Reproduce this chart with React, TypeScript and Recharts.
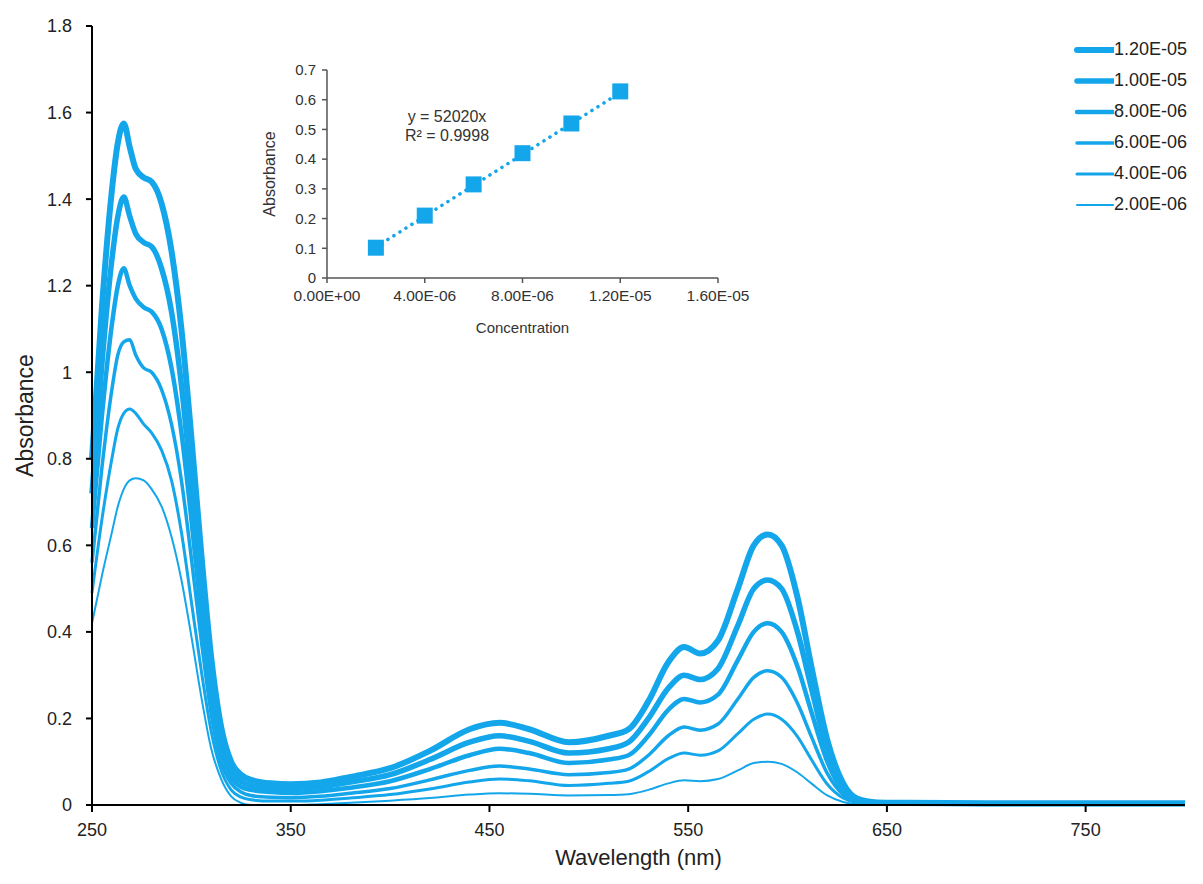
import { LineChart, Line, XAxis, YAxis, Legend, ComposedChart, Scatter } from "recharts"

const FONT = "'Liberation Sans', Arial, sans-serif"
const BLUE = "#14a6ea"

const wavelengths = [250, 255, 260, 263, 266, 269, 272, 276, 280, 285, 290, 295, 300, 305, 310, 315, 320, 325, 330, 340, 350, 365, 380, 400, 420, 440, 455, 470, 490, 510, 520, 530, 540, 548, 556, 565, 575, 583, 590, 597, 605, 612, 620, 628, 635, 645, 660, 700, 750, 800]

const s12 = [0.8, 1.15, 1.42, 1.53, 1.575, 1.52, 1.47, 1.45, 1.44, 1.39, 1.28, 1.1, 0.85, 0.58, 0.34, 0.18, 0.1, 0.07, 0.058, 0.05, 0.048, 0.052, 0.065, 0.085, 0.125, 0.175, 0.19, 0.175, 0.145, 0.16, 0.175, 0.24, 0.33, 0.365, 0.35, 0.38, 0.5, 0.6, 0.625, 0.6, 0.48, 0.32, 0.15, 0.05, 0.015, 0.006, 0.005, 0.004, 0.004, 0.004]
const s10 = [0.72, 1.02, 1.26, 1.36, 1.405, 1.36, 1.32, 1.3, 1.29, 1.24, 1.14, 0.97, 0.74, 0.5, 0.29, 0.15, 0.08, 0.055, 0.045, 0.04, 0.038, 0.042, 0.053, 0.07, 0.105, 0.145, 0.16, 0.147, 0.12, 0.13, 0.145, 0.2, 0.27, 0.3, 0.29, 0.315, 0.415, 0.5, 0.52, 0.5, 0.4, 0.27, 0.125, 0.04, 0.012, 0.005, 0.004, 0.003, 0.003, 0.003]
const s8 = [0.64, 0.9, 1.11, 1.2, 1.24, 1.2, 1.17, 1.15, 1.14, 1.1, 1.01, 0.86, 0.66, 0.44, 0.25, 0.13, 0.065, 0.042, 0.035, 0.03, 0.028, 0.032, 0.04, 0.055, 0.083, 0.115, 0.13, 0.12, 0.097, 0.105, 0.115, 0.16, 0.22, 0.245, 0.237, 0.255, 0.335, 0.4, 0.42, 0.4, 0.32, 0.215, 0.1, 0.032, 0.01, 0.004, 0.003, 0.003, 0.003, 0.003]
const s6 = [0.56, 0.78, 0.96, 1.04, 1.07, 1.075, 1.04, 1.01, 1.0, 0.96, 0.88, 0.75, 0.57, 0.38, 0.21, 0.1, 0.05, 0.03, 0.022, 0.018, 0.017, 0.02, 0.027, 0.038, 0.058, 0.08, 0.09, 0.083, 0.07, 0.075, 0.083, 0.115, 0.16, 0.18, 0.173, 0.187, 0.245, 0.295, 0.31, 0.295, 0.235, 0.158, 0.073, 0.024, 0.008, 0.003, 0.002, 0.002, 0.002, 0.002]
const s4 = [0.49, 0.66, 0.8, 0.87, 0.905, 0.915, 0.905, 0.88, 0.86, 0.82, 0.75, 0.63, 0.47, 0.31, 0.17, 0.08, 0.035, 0.018, 0.012, 0.009, 0.009, 0.011, 0.016, 0.024, 0.037, 0.053, 0.06, 0.056, 0.045, 0.05, 0.055, 0.077, 0.107, 0.12, 0.115, 0.125, 0.165, 0.198, 0.21, 0.198, 0.158, 0.105, 0.048, 0.016, 0.005, 0.002, 0.002, 0.002, 0.002, 0.002]
const s2 = [0.42, 0.53, 0.63, 0.69, 0.73, 0.75, 0.755, 0.75, 0.73, 0.69, 0.62, 0.52, 0.39, 0.25, 0.13, 0.06, 0.02, 0.005, 0, 0, 0, 0.002, 0.005, 0.01, 0.016, 0.024, 0.027, 0.026, 0.022, 0.023, 0.025, 0.035, 0.05, 0.057, 0.055, 0.06, 0.08, 0.097, 0.1, 0.095, 0.075, 0.05, 0.022, 0.007, 0.002, 0.001, 0.001, 0.001, 0.001, 0.001]

const seriesNames = ["1.20E-05", "1.00E-05", "8.00E-06", "6.00E-06", "4.00E-06", "2.00E-06"]
const seriesValues = [s12, s10, s8, s6, s4, s2]
const seriesWidths = [6, 5.5, 4.5, 3.5, 3, 2]

const xTicks = [250, 350, 450, 550, 650, 750]
const yTicks = [0, 0.2, 0.4, 0.6, 0.8, 1, 1.2, 1.4, 1.6, 1.8]

// inset calibration data
const concentrations = [2e-6, 4e-6, 6e-6, 8e-6, 1e-5, 1.2e-5]
const insetAbs = [0.102, 0.21, 0.315, 0.42, 0.52, 0.628]
const trendX = [2e-6, 1.2e-5]
const trendY = [0.104, 0.624]
const insetXTicks = [0, 4e-6, 8e-6, 1.2e-5, 1.6e-5]
const insetYTicks = [0, 0.1, 0.2, 0.3, 0.4, 0.5, 0.6, 0.7]

const rows = wavelengths.map((w, i) => {
  const r: Record<string, number> = { w }
  seriesNames.forEach((n, k) => { r[n] = seriesValues[k][i] })
  return r
})
const points = concentrations.map((c, i) => ({ c, a: insetAbs[i] }))
const trend = trendX.map((c, i) => ({ c, t: trendY[i] }))

const sci = (v: number) => {
  if (v === 0) return "0.00E+00"
  const [m, e] = v.toExponential(2).split("e")
  const n = parseInt(e, 10)
  return `${m}E${n < 0 ? "-" : "+"}${String(Math.abs(n)).padStart(2, "0")}`
}

function LegendBox() {
  return (
    <div style={{ fontFamily: FONT, fontSize: 18, color: "#222" }}>
      {seriesNames.map((n, i) => (
        <div key={n} style={{ display: "flex", alignItems: "center", height: 31 }}>
          <svg width={40} height={14}>
            <line x1={3} y1={7} x2={39} y2={7} stroke={BLUE} strokeWidth={seriesWidths[i]} strokeLinecap="round" />
          </svg>
          <span>{n}</span>
        </div>
      ))}
    </div>
  )
}

function Square(props: any) {
  const { cx, cy } = props
  return <rect x={cx - 8} y={cy - 8} width={16} height={16} fill={BLUE} />
}

export default function App() {
  return (
    <div style={{ position: "absolute", left: 0, top: 0, width: 1203, height: 884, background: "#fff" }}>
      <LineChart width={1203} height={884} data={rows} margin={{ top: 26, right: 18, bottom: 0, left: 0 }}>
        <XAxis
          dataKey="w"
          type="number"
          domain={[250, 800]}
          ticks={xTicks}
          height={79}
          stroke="#000"
          strokeWidth={2}
          tickSize={7}
          tickMargin={11}
          tick={{ fill: "#222", fontSize: 18, fontFamily: FONT }}
          label={{ value: "Wavelength (nm)", position: "insideBottom", offset: 19, fill: "#222", fontSize: 22, fontFamily: FONT }}
        />
        <YAxis
          type="number"
          domain={[0, 1.8]}
          ticks={yTicks}
          width={92}
          stroke="#000"
          strokeWidth={2}
          tickSize={6}
          tickMargin={14}
          tick={{ fill: "#222", fontSize: 18, fontFamily: FONT }}
          label={{
            content: ({ viewBox }: any) => (
              <text x={viewBox.x + 33} y={viewBox.y + viewBox.height / 2} transform={`rotate(-90 ${viewBox.x + 33} ${viewBox.y + viewBox.height / 2})`} textAnchor="middle" fill="#222" fontSize={23} fontFamily={FONT}>Absorbance</text>
            ),
          }}
        />
        <Legend layout="vertical" align="center" verticalAlign="middle" content={<LegendBox />} wrapperStyle={{ top: 34, right: -6, left: "auto", width: 135 }} />
        {seriesNames.map((n, i) => (
          <Line key={n} dataKey={n} type="monotone" stroke={BLUE} strokeWidth={seriesWidths[i]} dot={false} isAnimationActive={false} />
        ))}
      </LineChart>

      <div style={{ position: "absolute", left: 250, top: 40 }}>
        <ComposedChart width={520} height={300} margin={{ top: 30, right: 52, bottom: 0, left: 0 }}>
          <XAxis
            dataKey="c"
            type="number"
            domain={[0, 1.6e-5]}
            ticks={insetXTicks}
            tickFormatter={sci}
            height={62}
            stroke="#555"
            strokeWidth={1.5}
            tickSize={5}
            tickMargin={7}
            tick={{ fill: "#333", fontSize: 15.5, fontFamily: FONT }}
            label={{ value: "Concentration", position: "insideBottom", offset: 7, fill: "#333", fontSize: 15, fontFamily: FONT }}
          />
          <YAxis
            type="number"
            domain={[0, 0.7]}
            ticks={insetYTicks}
            width={77}
            stroke="#555"
            strokeWidth={1.5}
            tickSize={5}
            tickMargin={6}
            tick={{ fill: "#333", fontSize: 15, fontFamily: FONT }}
            label={{
              content: ({ viewBox }: any) => (
                <text x={viewBox.x + 25} y={viewBox.y + viewBox.height / 2} transform={`rotate(-90 ${viewBox.x + 25} ${viewBox.y + viewBox.height / 2})`} textAnchor="middle" fill="#333" fontSize={16} fontFamily={FONT}>Absorbance</text>
              ),
            }}
          />
          <Line data={trend} dataKey="t" type="linear" stroke={BLUE} strokeWidth={3.5} strokeDasharray="0.1 7" strokeLinecap="round" dot={false} isAnimationActive={false} />
          <Scatter data={points} dataKey="a" fill={BLUE} shape={<Square />} isAnimationActive={false} />
        </ComposedChart>
        <div style={{ position: "absolute", left: 137, top: 67, width: 120, fontFamily: FONT, fontSize: 16, color: "#333", textAlign: "center", lineHeight: "19px" }}>
          <div>y = 52020x</div>
          <div>R² = 0.9998</div>
        </div>
      </div>
    </div>
  )
}
